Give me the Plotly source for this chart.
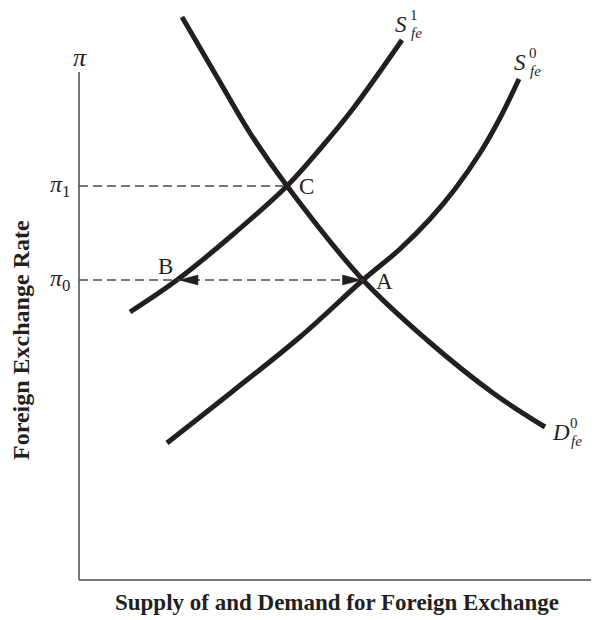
import plotly.graph_objects as go

# ---- data (quantity, exchange rate) ----
d0_q = [20.6, 27.6, 34.2, 41.6, 56.8, 69.6, 82.8, 93.2]
d0_p = [112.6, 100.6, 89.4, 78.8, 60.0, 48.0, 37.4, 30.6]

s0_q = [17.6, 30.8, 44.2, 56.8, 64.2, 70.2, 75.2, 80.2, 84.2, 88.0]
s0_p = [27.4, 37.8, 48.6, 60.0, 66.2, 72.2, 78.2, 85.4, 92.4, 100.2]

s1_q = [10.2, 19.6, 30.2, 41.6, 48.2, 54.6, 64.6]
s1_p = [53.6, 60.0, 68.6, 78.8, 86.2, 94.0, 108.0]

pi0 = 60.0
pi1 = 78.8
q_B, q_C, q_A = 19.6, 41.6, 56.8
y_axis_top = 101.6

CURVE = "#231f20"
GRAY = "#4a4a4a"
SERIF = "Liberation Serif, Times New Roman, serif"

fig = go.Figure()

for q, p in [(d0_q, d0_p), (s0_q, s0_p), (s1_q, s1_p)]:
    fig.add_trace(go.Scatter(x=q, y=p, mode="lines",
                             line=dict(color=CURVE, width=5, shape="spline", smoothing=1),
                             hoverinfo="skip", showlegend=False))

# dashed guide lines
fig.add_trace(go.Scatter(x=[0, q_C], y=[pi1, pi1], mode="lines",
                         line=dict(color=GRAY, width=1.5, dash="9px,5px"),
                         hoverinfo="skip", showlegend=False))
fig.add_trace(go.Scatter(x=[0, q_A], y=[pi0, pi0], mode="lines",
                         line=dict(color=GRAY, width=1.5, dash="9px,5px"),
                         hoverinfo="skip", showlegend=False))

shapes = []
# axes
shapes.append(dict(type="line", xref="x", yref="y", x0=0, y0=0, x1=0, y1=y_axis_top,
                   line=dict(color=GRAY, width=1.5)))
shapes.append(dict(type="line", xref="x", yref="y", x0=0, y0=0, x1=104, y1=0,
                   line=dict(color=GRAY, width=1.5)))
# arrowheads
L, H = 3.8, 1.0
tipB = q_B + 0.4
shapes.append(dict(type="path", xref="x", yref="y",
                   path=f"M {tipB},{pi0} L {tipB+L},{pi0+H} L {tipB+L},{pi0-H} Z",
                   fillcolor=CURVE, line=dict(color=CURVE, width=0.5)))
tipA = q_A - 0.3
shapes.append(dict(type="path", xref="x", yref="y",
                   path=f"M {tipA},{pi0} L {tipA-L},{pi0+H} L {tipA-L},{pi0-H} Z",
                   fillcolor=CURVE, line=dict(color=CURVE, width=0.5)))

ann = []
def txt(x, y, s, size=23, **kw):
    a = dict(x=x, y=y, xref="x", yref="y", text=s, showarrow=False,
             font=dict(family=SERIF, size=size, color="#231f20"),
             xanchor="center", yanchor="middle", borderpad=0)
    a.update(kw)
    ann.append(a)

# point labels
txt(q_B, pi0, "B", xshift=-12, yshift=14)
txt(q_C, pi1, "C", xshift=19, yshift=0)
txt(q_A, pi0, "A", xshift=21, yshift=-1)

# price labels
txt(0, y_axis_top, "<i>π</i>", size=26, xshift=1, yshift=15)
txt(0, pi1, "<i>π</i><sub>1</sub>", size=24, xanchor="right", xshift=-8)
txt(0, pi0, "<i>π</i><sub>0</sub>", size=24, xanchor="right", xshift=-8)

# curve labels (letter with stacked super/subscripts)
def curve_label(q, p, letter, sup, dx, dy):
    txt(q, p, f"<i>{letter}</i>", size=23, xshift=dx, yshift=dy)
    txt(q, p, sup, size=15, xshift=dx + 13, yshift=dy + 9)
    txt(q, p, "<i>fe</i>", size=15, xshift=dx + 15, yshift=dy - 9)

curve_label(s1_q[-1], s1_p[-1], "S", "1", -1, 16)
curve_label(s0_q[-1], s0_p[-1], "S", "0", 1, 17)
curve_label(d0_q[-1], d0_p[-1], "D", "0", 16, -5)

# axis titles
ann.append(dict(x=0.5057, y=-0.0223, xref="paper", yref="paper", showarrow=False,
                text="<b>Supply of and Demand for Foreign Exchange</b>",
                font=dict(family=SERIF, size=23, color="#231f20"),
                xanchor="center", yanchor="middle"))
ann.append(dict(x=-0.0906, y=0.4296, xref="paper", yref="paper", showarrow=False,
                text="<b>Foreign Exchange Rate</b>", textangle=-90,
                font=dict(family=SERIF, size=24, color="#231f20"),
                xanchor="center", yanchor="middle"))

fig.update_layout(
    width=599, height=620,
    margin=dict(l=61, r=8, t=0, b=38),
    paper_bgcolor="white", plot_bgcolor="white",
    xaxis=dict(range=[-2, 104], visible=False, fixedrange=True),
    yaxis=dict(range=[-2, 114.4], visible=False, fixedrange=True),
    shapes=shapes, annotations=ann, showlegend=False,
)

fig.write_html("out.html", config={"displayModeBar": False})
